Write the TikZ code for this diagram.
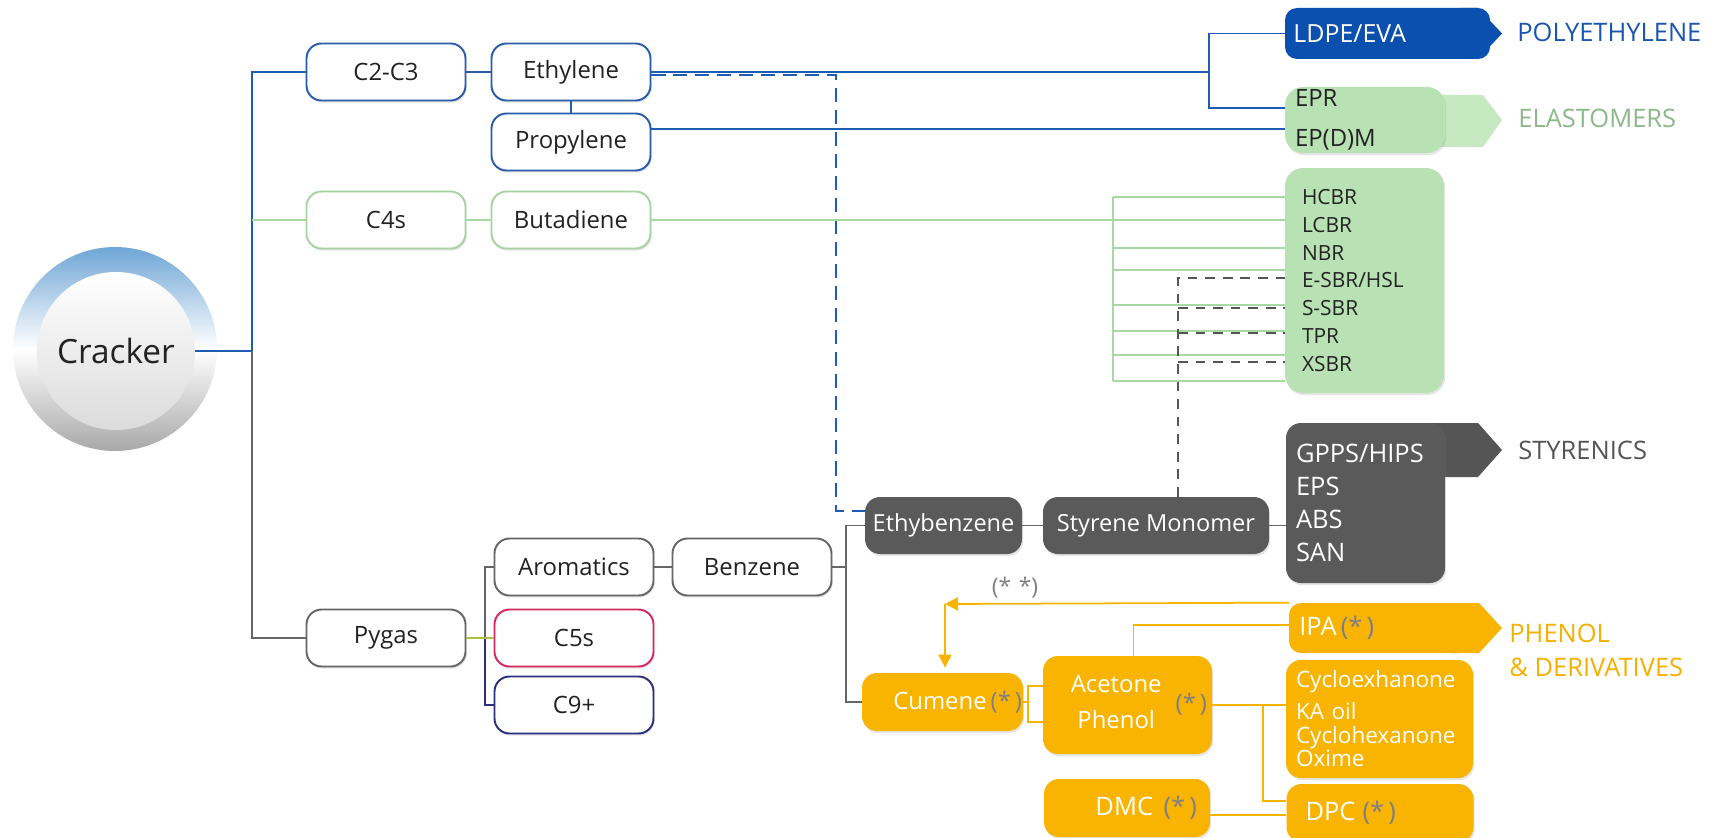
\documentclass[tikz,border=0pt]{standalone}
\usepackage{fontspec}
\setmainfont{Open Sans}
\usetikzlibrary{arrows.meta,calc,shadows}
\newlength\pxu \setlength\pxu{0.02cm}
\definecolor{lblue}{HTML}{1F5CB4}
\definecolor{bblue}{HTML}{2A5BA8}
\definecolor{dblue}{HTML}{0B50AE}
\definecolor{polyblue}{HTML}{1A56B0}
\definecolor{lgreen}{HTML}{A9D9A3}
\definecolor{bgreen}{HTML}{A6D4A0}
\definecolor{fgreen}{HTML}{B9E2B4}
\definecolor{flaggreen}{HTML}{C6E9C2}
\definecolor{elgreen}{HTML}{8DB88A}
\definecolor{lgray}{HTML}{666666}
\definecolor{dgray}{HTML}{5A5A5A}
\definecolor{stygray}{HTML}{555555}
\definecolor{orng}{HTML}{F8B400}
\definecolor{phorange}{HTML}{F5B000}
\definecolor{stargray}{HTML}{7E7E88}
\definecolor{crim}{HTML}{D4285E}
\definecolor{navyc}{HTML}{2B2E7C}
\definecolor{olivec}{HTML}{A8C23C}
\definecolor{ringblue}{HTML}{6FA6D6}
\definecolor{ringgray}{HTML}{A8A8A8}
\definecolor{txt}{HTML}{222222}
\newcommand\fsz[2]{\fontsize{#1}{#2}\selectfont}
\newcommand\starmark{{\color{stargray}(*\,)}}
\tikzset{
  shd/.style={drop shadow={shadow xshift=0.7pt, shadow yshift=-1.2pt, opacity=0.2}},
  wbox/.style={draw, rounded corners=15\pxu, line width=1.1pt, fill=white, minimum width=159\pxu,
    minimum height=57\pxu, inner sep=0pt, font=\fsz{13.6}{16}, text=txt, shd},
  dbox/.style={fill=dgray, rounded corners=15\pxu, minimum height=57\pxu, inner sep=0pt,
    text=white, font=\fsz{13.4}{16}, shd},
  gbox/.style={fill=fgreen, rounded corners=18\pxu, inner ysep=0pt, text=txt, align=left, shd},
  obox/.style={fill=orng, rounded corners=15\pxu, inner ysep=0pt, text=white, font=\fsz{13.6}{16}, shd},
  conn/.style={line width=1.1pt},
  catlabel/.style={anchor=west, inner sep=0pt, font=\fsz{14.5}{19.3}},
  tipa/.style={-{Triangle[length=7.4pt,width=7.4pt]}},
}
\begin{document}
\begin{tikzpicture}[x=0.02cm, y=-0.02cm]
\fill[white] (0,0) rectangle (1711,838);
\useasboundingbox (0,0) rectangle (1711,838);

% Cracker
\shade[top color=ringblue, bottom color=ringgray, middle color=white] (115,349) circle[radius=102\pxu];
\node[circle, minimum size=158\pxu, inner sep=0pt, top color=white, bottom color=black!14,
  font=\fsz{19}{22}, text=txt] (cracker) at (116,351) {Cracker};

% white boxes
\node[wbox, draw=bblue] (c23) at (386,72) {C2-C3};
\node[wbox, draw=bblue] (eth) at (571,72) {Ethylene};
\node[wbox, draw=bblue] (prop) at (571,142) {Propylene};
\node[wbox, draw=bgreen] (c4) at (386,220) {C4s};
\node[wbox, draw=bgreen] (but) at (571,220) {Butadiene};
\node[wbox, draw=lgray] (pyg) at (386,638) {Pygas};
\node[wbox, draw=lgray] (aro) at (574,567) {Aromatics};
\node[wbox, draw=lgray] (ben) at (752,567) {Benzene};
\node[wbox, draw=crim] (c5) at (574,638) {C5s};
\node[wbox, draw=navyc] (c9) at (574,705) {C9+};

% LDPE / EVA
\fill[dblue, rounded corners=12\pxu] (1285,8) rectangle (1490,59);
\fill[dblue] (1460,8) -- (1478,8) -- (1502,33.5) -- (1478,59) -- (1460,59) -- cycle;
\node[anchor=west, text width=200\pxu, inner xsep=8\pxu, inner ysep=0pt, minimum height=51\pxu,
  align=left, text=white, font=\fsz{14.2}{16}] (ldpe) at (1285,33.5) {LDPE/EVA};
\node[catlabel, text=polyblue] (polyl) at (1517,32) {POLYETHYLENE};

% EPR
\fill[flaggreen] (1420,95) -- (1483,95) -- (1502,120) -- (1483,147) -- (1420,147) -- cycle;
\node[gbox, minimum width=160\pxu, minimum height=66\pxu, text width=140\pxu, inner xsep=10\pxu,
  font=\fsz{13.6}{22.7}] (epr) at (1365,120) {EPR\\EP(D)M};
\node[catlabel, text=elgreen] (elast) at (1518,118) {ELASTOMERS};

% rubbers
\node[gbox, minimum width=159\pxu, minimum height=225\pxu, text width=125\pxu, inner xsep=17\pxu,
  font=\fsz{11.9}{15.8}] (rub) at (1364.5,280.5) {HCBR\\LCBR\\NBR\\E-SBR/HSL\\S-SBR\\TPR\\XSBR};

% styrenics
\node[dbox, minimum width=157\pxu] (ebz) at (943.5,525.5) {Ethybenzene};
\node[dbox, minimum width=226\pxu] (sty) at (1156,525.5) {Styrene Monomer};
\fill[stygray] (1420,423) -- (1478,423) -- (1502,450) -- (1478,477) -- (1420,477) -- cycle;
\node[dbox, minimum width=159\pxu, minimum height=160\pxu, text width=139\pxu, inner xsep=10\pxu,
  align=left, font=\fsz{14.5}{18.7}] (gpps) at (1365.5,503) {GPPS/HIPS\\EPS\\ABS\\SAN};
\node[catlabel, text=stygray] (styl) at (1518,450) {STYRENICS};

% phenol
\fill[orng, rounded corners=12\pxu] (1289,603) rectangle (1470,653);
\fill[orng] (1450,603) -- (1479,603) -- (1502,628) -- (1479,653) -- (1450,653) -- cycle;
\node[anchor=west, text width=193\pxu, inner xsep=10\pxu, inner ysep=0pt, minimum height=50\pxu,
  align=left, text=white, font=\fsz{14.5}{16}] (ipa) at (1289,628) {IPA\,\starmark};
\node[catlabel, text=phorange, align=left] (phen) at (1509,650) {PHENOL\\\& DERIVATIVES};

\node[obox, minimum width=161\pxu, minimum height=58\pxu, text width=159\pxu, inner xsep=1\pxu,
  align=right] (cum) at (942.5,702) {Cumene\,\starmark};
\node[obox, minimum width=169\pxu, minimum height=98\pxu, text width=159\pxu, inner xsep=5\pxu,
  align=right] (acet) at (1127.5,705)
  {\begin{tabular}{@{}c@{}}Acetone\\[4.4pt]Phenol\end{tabular}\hspace{8pt}\starmark};
\node[obox, minimum width=187\pxu, minimum height=118\pxu, text width=167\pxu, inner xsep=10\pxu,
  align=left, font=\fsz{12.8}{13.5}] (cyc) at (1379.5,719)
  {Cycloexhanone\\[4.5pt]KA oil\\Cyclohexanone\\Oxime};
\node[obox, minimum width=166\pxu, minimum height=58\pxu, text width=140\pxu, inner xsep=13\pxu,
  align=right, font=\fsz{14.5}{16}] (dmc) at (1127,808) {DMC\hspace{6pt}\starmark};
\node[obox, minimum width=187\pxu, minimum height=58\pxu, text width=149\pxu, inner xsep=19\pxu,
  align=left, font=\fsz{14.5}{16}] (dpc) at (1380,813) {DPC\hspace{4pt}\starmark};
\node[text=stargray, font=\fsz{13}{15}, inner sep=0pt] (dstar) at (1015,588) {(*\,\,*)};

% ---- connectors ----
\coordinate (tr) at (252,351);
\coordinate (tg) at (252,220);
\draw[conn, lblue] (cracker.east) -- (tr);
\draw[conn, lblue] (tr) |- (c23.west);
\draw[conn, lgreen] (tg) -- (c4.west);
\draw[conn, lgray] (tr) |- (pyg.west);

\draw[conn, bblue] (c23.east) -- (eth.west);
\draw[conn, bblue] (eth.south) -- (prop.north);
\draw[conn, lgreen] (c4.east) -- (but.west);

\coordinate (eb) at (1209,72);
\draw[conn, lblue] (eth.east) -- (eb);
\draw[conn, lblue] (eb) |- (ldpe.west);
\draw[conn, lblue] (eb) |- ($(epr.west)+(0,-12)$);
\draw[conn, lblue] ($(prop.east)+(0,-13)$) -- ($(epr.west)+(0,9)$);

\coordinate (dk) at (836,511);
\draw[lblue, line width=1pt, dash pattern=on 8pt off 4.5pt] ($(eth.east)+(0,3)$) -| (dk) -- (dk -| ebz.west);

\draw[conn, lgreen] (but.east) -- (but.east -| rub.west);
\draw[conn, lgreen] (1113,197) -- (1113,381);
\foreach \yy in {197,248,270,305,331,355,381}
  \draw[conn, lgreen] (1113,\yy) -- (rub.west |- 0,\yy);

\draw[stygray, line width=0.9pt, dash pattern=on 5.5pt off 4.5pt] (sty.north -| 1178,0) -- (1178,278) -- (rub.west |- 0,278);
\foreach \yy in {308,333,362}
  \draw[stygray, line width=0.9pt, dash pattern=on 5.5pt off 4.5pt] (1178,\yy) -- (rub.west |- 0,\yy);

\coordinate (pb) at (485,638);
\draw[conn, lgray] (pb) |- (aro.west);
\draw[conn, navyc] (pb) |- (c9.west);
\draw[olivec, line width=1.6pt] (pyg.east) -- (c5.west);

\draw[conn, lgray] (aro.east) -- (ben.west);
\coordinate (bb) at (846,567);
\draw[conn, lgray] (ben.east) -- (bb);
\draw[conn, lgray] (ebz.west) -| (bb) |- (cum.west);
\draw[conn, lgray] (ebz.east) -- (sty.west);
\draw[conn, lgray] (sty.east) -- (sty.east -| gpps.west);

\coordinate (ic) at (945,604);
\draw[line width=1pt, orng, tipa] (ipa.north west) -- (ic);
\draw[line width=1pt, orng, tipa] (ic) -- ($(ic |- cum.north)+(0,-5)$);
\draw[line width=1pt, orng] ($(ipa.west)+(0,-3)$) -| ($(acet.north)+(6,0)$);
\coordinate (bk) at (1028,702);
\draw[line width=1pt, orng] (cum.east) -- (bk);
\draw[line width=1pt, orng] ($(acet.west)+(0,-19)$) -| (bk) |- ($(acet.west)+(0,17)$);
\coordinate (ad) at (1263,705);
\draw[line width=1pt, orng] (acet.east) -- (acet.east -| cyc.west);
\draw[line width=1pt, orng] (ad) |- ($(dpc.west)+(0,-12)$);
\draw[line width=1pt, orng] ($(dmc.east)+(0,7)$) -- ($(dpc.west)+(0,2)$);
\end{tikzpicture}
\end{document}
